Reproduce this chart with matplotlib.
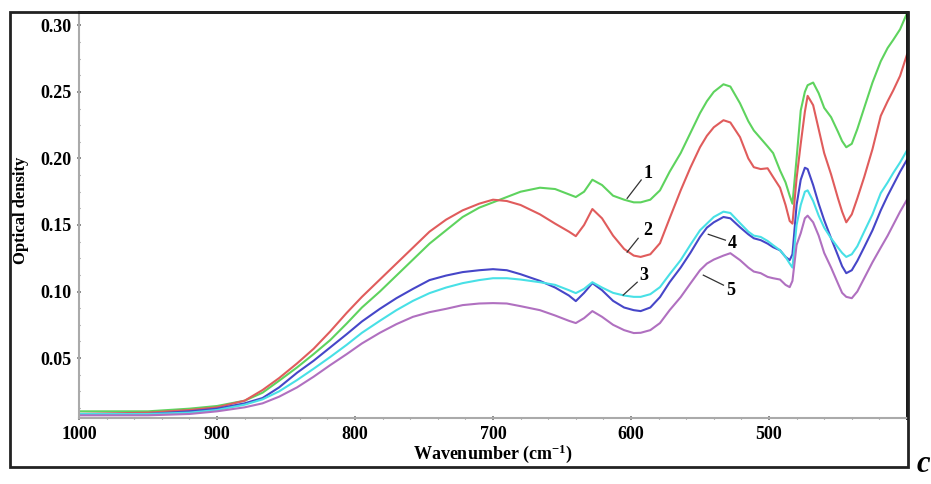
import matplotlib
matplotlib.use('Agg')
import matplotlib.pyplot as plt
from matplotlib.patches import Rectangle
from matplotlib.ticker import MultipleLocator, FormatStrFormatter

plt.rcParams['font.family'] = 'Liberation Serif'
plt.rcParams['font.weight'] = 'bold'
plt.rcParams['mathtext.fontset'] = 'custom'
plt.rcParams['mathtext.rm'] = 'Liberation Serif:bold'
plt.rcParams['mathtext.it'] = 'Liberation Serif:bold'

# wavenumbers (cm-1)
wn = [1000, 950, 920, 900, 880, 867, 855, 842, 830, 818, 806, 795, 782, 770,
      758, 746, 734, 722, 710, 700, 690, 680, 666, 655, 645, 640, 634, 628,
      621, 613, 605, 598, 593, 586, 579, 572, 564, 557, 550, 545, 540, 533,
      528, 521, 515, 511, 506, 501, 497, 492, 488, 485, 483, 480, 477, 474,
      472, 468, 464, 460, 455, 450, 447, 444, 440, 436, 431, 425, 419, 414,
      410, 405, 400]

od1 = [0.010, 0.010, 0.012, 0.014, 0.018, 0.024, 0.033, 0.043, 0.053, 0.0635,
       0.076, 0.088, 0.100, 0.112, 0.124, 0.136, 0.146, 0.156, 0.163, 0.167,
       0.171, 0.175, 0.178, 0.177, 0.173, 0.171, 0.175, 0.184, 0.180, 0.172,
       0.169, 0.167, 0.167, 0.169, 0.176, 0.190, 0.204, 0.219, 0.234, 0.243,
       0.250, 0.2557, 0.254, 0.2414, 0.228, 0.221, 0.215, 0.209, 0.204, 0.191,
       0.182, 0.172, 0.166, 0.200, 0.236, 0.250, 0.255, 0.257, 0.249, 0.238,
       0.231, 0.220, 0.213, 0.2084, 0.211, 0.222, 0.238, 0.257, 0.273, 0.283,
       0.289, 0.297, 0.309]

od2 = [0.008, 0.009, 0.011, 0.013, 0.018, 0.026, 0.035, 0.046, 0.057, 0.070,
       0.084, 0.096, 0.109, 0.121, 0.133, 0.145, 0.154, 0.161, 0.166, 0.169,
       0.168, 0.165, 0.158, 0.151, 0.145, 0.1416, 0.150, 0.162, 0.155, 0.142,
       0.132, 0.127, 0.126, 0.128, 0.1363, 0.155, 0.176, 0.193, 0.2084, 0.217,
       0.2234, 0.2287, 0.227, 0.216, 0.200, 0.1934, 0.192, 0.1926, 0.186, 0.178,
       0.165, 0.153, 0.151, 0.185, 0.211, 0.235, 0.247, 0.240, 0.222, 0.204,
       0.188, 0.170, 0.160, 0.152, 0.158, 0.170, 0.186, 0.207, 0.232, 0.243,
       0.251, 0.262, 0.278]

od3 = [0.008, 0.008, 0.010, 0.012, 0.016, 0.020, 0.028, 0.039, 0.048, 0.058,
       0.068, 0.0775, 0.087, 0.095, 0.102, 0.1086, 0.112, 0.1146, 0.116, 0.1168,
       0.116, 0.113, 0.108, 0.103, 0.097, 0.0928, 0.099, 0.1063, 0.101, 0.093,
       0.088, 0.086, 0.0853, 0.088, 0.0958, 0.107, 0.118, 0.129, 0.141, 0.148,
       0.152, 0.156, 0.155, 0.1483, 0.143, 0.140, 0.1386, 0.136, 0.1333, 0.131,
       0.126, 0.1236, 0.128, 0.165, 0.184, 0.193, 0.192, 0.180, 0.166, 0.1536,
       0.140, 0.127, 0.119, 0.1138, 0.116, 0.123, 0.1333, 0.146, 0.161, 0.172,
       0.180, 0.190, 0.199]

od4 = [0.008, 0.008, 0.009, 0.011, 0.015, 0.019, 0.025, 0.0335, 0.042, 0.0508,
       0.060, 0.0690, 0.078, 0.086, 0.093, 0.0988, 0.103, 0.1063, 0.1086, 0.110,
       0.110, 0.109, 0.107, 0.105, 0.101, 0.0988, 0.102, 0.107, 0.103, 0.099,
       0.097, 0.096, 0.096, 0.098, 0.1033, 0.113, 0.1236, 0.135, 0.146, 0.151,
       0.156, 0.160, 0.159, 0.1514, 0.145, 0.142, 0.141, 0.138, 0.1348, 0.131,
       0.126, 0.121, 0.118, 0.150, 0.165, 0.175, 0.176, 0.168, 0.157, 0.148,
       0.140, 0.133, 0.129, 0.126, 0.128, 0.134, 0.145, 0.158, 0.174, 0.182,
       0.189, 0.197, 0.206]

od5 = [0.007, 0.007, 0.008, 0.010, 0.013, 0.016, 0.021, 0.028, 0.036, 0.0447,
       0.053, 0.0610, 0.069, 0.0755, 0.081, 0.0845, 0.087, 0.0898, 0.091, 0.0913,
       0.091, 0.089, 0.086, 0.082, 0.078, 0.0763, 0.080, 0.0853, 0.081, 0.075,
       0.071, 0.0688, 0.069, 0.071, 0.0763, 0.086, 0.0958, 0.106, 0.116, 0.121,
       0.124, 0.127, 0.1288, 0.1236, 0.118, 0.115, 0.1138, 0.111, 0.110, 0.109,
       0.105, 0.1033, 0.108, 0.135, 0.1438, 0.155, 0.157, 0.152, 0.142, 0.129,
       0.118, 0.106, 0.099, 0.096, 0.095, 0.100, 0.1100, 0.122, 0.133, 0.142,
       0.150, 0.160, 0.169]

series = [od1, od2, od3, od4, od5]
colors = ['#5ed35e', '#e05c5c', '#4646c8', '#48e0e6', '#b070c0']

# curve labels: text position, leader line start, leader line end
labels = ['1', '2', '3', '4', '5']
label_pos = [(588, 0.189), (587.5, 0.146), (591, 0.1123), (526.5, 0.1363), (528, 0.101)]
lead_from = [(592.6, 0.1838), (594.8, 0.140), (595.5, 0.107), (531.6, 0.1386), (533, 0.1048)]
lead_to = [(602.8, 0.170), (602.8, 0.1296), (605.7, 0.0973), (544, 0.143), (547.6, 0.1123)]

fig = plt.figure(figsize=(9.31, 4.84), dpi=100)
ax = fig.add_axes([0.0849, 0.1364, 0.8893, 0.8388])

for s, c in zip(series, colors):
    ax.plot(wn, s, color=c, lw=1.5)

for t, p, a, b in zip(labels, label_pos, lead_from, lead_to):
    ax.plot([a[0], b[0]], [a[1], b[1]], color='#333333', lw=0.9)
    ax.text(p[0], p[1], t, fontsize=13, fontweight='bold', ha='center', va='center')

ax.set_xlim(1000, 400)
ax.set_ylim(0.005, 0.31)
ax.set_xticks([1000, 900, 800, 700, 600, 500])
ax.xaxis.set_minor_locator(MultipleLocator(20))
ax.set_yticks([0.05, 0.10, 0.15, 0.20, 0.25, 0.30])
ax.yaxis.set_minor_locator(MultipleLocator(0.0125))
ax.yaxis.set_major_formatter(FormatStrFormatter('%.2f'))

ax.tick_params(which='both', direction='inout', color='#777777', labelsize=13)
ax.tick_params(which='major', length=3, width=1.2, pad=4)
ax.tick_params(which='minor', length=2, width=0.8)
for lab in ax.get_xticklabels() + ax.get_yticklabels():
    lab.set_fontweight('bold')

for side in ['left', 'bottom']:
    ax.spines[side].set_color('#aaaaaa')
    ax.spines[side].set_linewidth(1.5)
for side in ['top', 'right']:
    ax.spines[side].set_color('black')
    ax.spines[side].set_linewidth(2)

ax.set_xlabel('Wavenumber (cm$^{-1}$)', fontsize=13, fontweight='bold', labelpad=0)
fig.text(0.0226, 0.565, 'Optical density', rotation=90, fontsize=12,
         fontweight='bold', ha='center', va='center')

# outer frame round the whole chart
fig.patches.append(Rectangle((0.0107, 0.0351), 0.9646, 0.9401, transform=fig.transFigure,
                             fill=False, edgecolor='#222222', lw=2))
fig.text(0.9845, 0.040, 'c', fontsize=22, fontweight='bold', fontstyle='italic',
         ha='left', va='center')

plt.savefig('out.png', dpi=100)
